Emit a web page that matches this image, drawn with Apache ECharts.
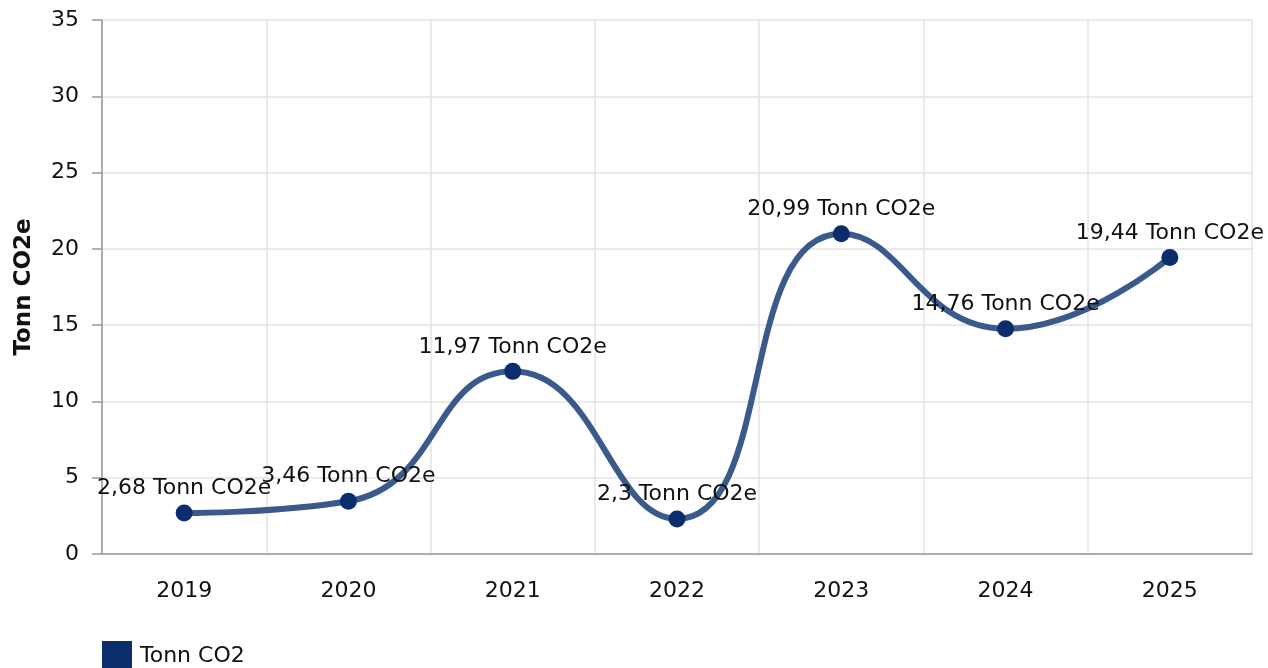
<!DOCTYPE html>
<html><head><meta charset="utf-8">
<script src="https://cdn.jsdelivr.net/npm/echarts@6/dist/echarts.min.js"></script>
<style>html,body{margin:0;padding:0;background:#fff}#c{width:1268px;height:668px}</style>
</head><body><div id="c"></div>
<script>
const categories = ['2019','2020','2021','2022','2023','2024','2025'];
const values = [2.68, 3.46, 11.97, 2.3, 20.99, 14.76, 19.44];
const seriesName = 'Tonn CO2';
const unit = 'Tonn CO2e';
const yTicks = {min: 0, max: 35, interval: 5};

const font = '"DejaVu Sans", Verdana, sans-serif';
const chart = echarts.init(document.getElementById('c'), null, {renderer: 'canvas'});
chart.setOption({
  animation: false,
  textStyle: {fontFamily: font},
  grid: {left: 102, right: 16, top: 20, bottom: 114},
  legend: {
    left: 97, top: 636, itemWidth: 30, itemHeight: 30, itemGap: 8,
    icon: 'rect',
    textStyle: {fontFamily: font, fontSize: 22, color: '#111', padding: [0, 0, 0, 3]},
    data: [{name: seriesName, itemStyle: {color: '#0b2d6b'}}]
  },
  xAxis: {
    type: 'category', data: categories, boundaryGap: true,
    axisLine: {lineStyle: {color: '#999', width: 1.5}},
    axisTick: {alignWithLabel: true, length: 9, lineStyle: {color: '#999', width: 1.5}},
    axisLabel: {fontFamily: font, fontSize: 22, color: '#111', margin: 26},
    splitLine: {show: true, lineStyle: {color: '#e3e3e3', width: 1.5}}
  },
  yAxis: {
    type: 'value', min: yTicks.min, max: yTicks.max, interval: yTicks.interval,
    name: 'Tonn CO2e', nameLocation: 'middle', nameGap: 66,
    nameTextStyle: {fontFamily: font, fontSize: 23, fontWeight: 'bold', color: '#111'},
    axisLine: {show: true, lineStyle: {color: '#999', width: 1.5}},
    axisTick: {show: true, length: 10, lineStyle: {color: '#999', width: 1.5}},
    axisLabel: {fontFamily: font, fontSize: 22, color: '#111', margin: 23},
    splitLine: {show: true, lineStyle: {color: '#e3e3e3', width: 1.5}}
  },
  series: [{
    name: seriesName, type: 'line', data: values, smooth: 0.5,
    symbol: 'circle', symbolSize: 17,
    lineStyle: {color: '#3b5a8c', width: 6},
    itemStyle: {color: '#0b2d6b'},
    label: {
      show: true, position: 'top', distance: 5,
      fontFamily: font, fontSize: 22, color: '#111',
      formatter: p => String(p.value).replace('.', ',') + ' ' + unit
    },
    labelLayout: {hideOverlap: false}
  }]
});
</script></body></html>
